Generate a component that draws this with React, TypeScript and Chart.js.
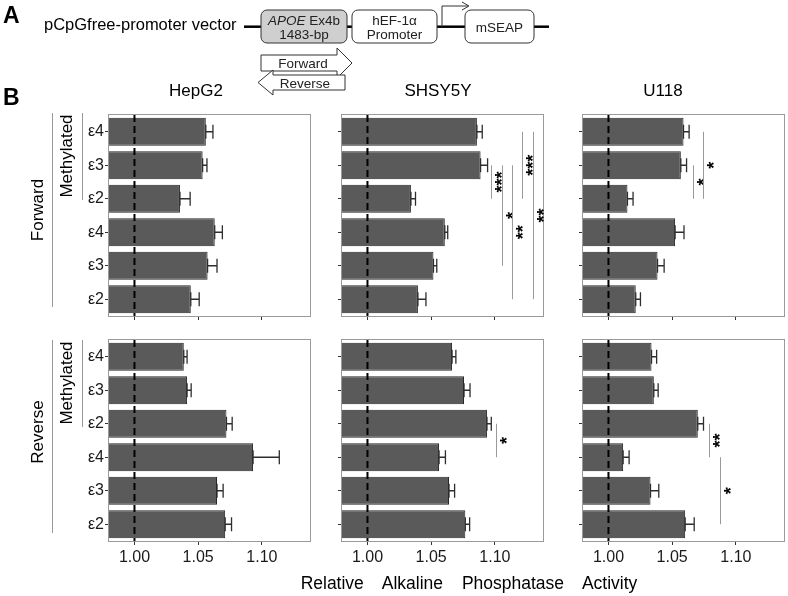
import React, { useEffect, useRef } from "react";
import { Chart, registerables } from "chart.js";

Chart.register(...registerables);

// ---------------- data ----------------
const categories = ["ε4", "ε3", "ε2", "ε4", "ε3", "ε2"];
const xTickValues = [1.0, 1.05, 1.1];
const cellLines = ["HepG2", "SHSY5Y", "U118"];
const orientations = ["Forward", "Reverse"];

const hepg2Forward = [1.056, 1.0535, 1.0357, 1.063, 1.0574, 1.0442];
const hepg2ForwardErr = [0.0056, 0.0034, 0.008, 0.006, 0.0074, 0.0066];
const hepg2Reverse = [1.0387, 1.0413, 1.0722, 1.0931, 1.0648, 1.0712];
const hepg2ReverseErr = [0.0026, 0.0032, 0.0045, 0.0206, 0.0048, 0.005];

const shsy5yForward = [1.0859, 1.0888, 1.0341, 1.0607, 1.0518, 1.0396];
const shsy5yForwardErr = [0.0042, 0.0055, 0.0036, 0.0023, 0.0026, 0.0063];
const shsy5yReverse = [1.0664, 1.0758, 1.0938, 1.0562, 1.064, 1.0768];
const shsy5yReverseErr = [0.003, 0.0047, 0.0034, 0.005, 0.0044, 0.0034];

const u118Forward = [1.0589, 1.0568, 1.0149, 1.0523, 1.0385, 1.0214];
const u118ForwardErr = [0.0044, 0.0045, 0.0044, 0.007, 0.0052, 0.0037];
const u118Reverse = [1.0338, 1.0356, 1.0701, 1.0115, 1.033, 1.0602];
const u118ReverseErr = [0.004, 0.0034, 0.0045, 0.0047, 0.0065, 0.0071];

// significance: [x value, from category index, to category index, label]
type Sig = [number, number, number, string];
const shsy5yForwardSig: Sig[] = [
  [1.097, 1, 2, "***"],
  [1.1057, 1, 4, "*"],
  [1.1135, 1, 5, "**"],
  [1.1216, 0, 2, "***"],
  [1.13, 0, 5, "**"],
];
const u118ForwardSig: Sig[] = [
  [1.066, 1, 2, "*"],
  [1.0746, 0, 2, "*"],
];
const hepg2ForwardSig: Sig[] = [];
const hepg2ReverseSig: Sig[] = [];
const shsy5yReverseSig: Sig[] = [[1.1008, 2, 3, "*"]];
const u118ReverseSig: Sig[] = [
  [1.0786, 2, 3, "**"],
  [1.0877, 3, 5, "*"],
];

const panelData = [
  [
    { values: hepg2Forward, errors: hepg2ForwardErr, sigs: hepg2ForwardSig },
    { values: shsy5yForward, errors: shsy5yForwardErr, sigs: shsy5yForwardSig },
    { values: u118Forward, errors: u118ForwardErr, sigs: u118ForwardSig },
  ],
  [
    { values: hepg2Reverse, errors: hepg2ReverseErr, sigs: hepg2ReverseSig },
    { values: shsy5yReverse, errors: shsy5yReverseErr, sigs: shsy5yReverseSig },
    { values: u118Reverse, errors: u118ReverseErr, sigs: u118ReverseSig },
  ],
];

// ---------------- layout ----------------
const FONT = "'Liberation Sans', Arial, Helvetica, sans-serif";
const PANEL_W = 201;
const PANEL_H = 201;
const colLeft = [109, 342, 583];
const rowTop = [115, 340];
const X_MIN = 0.98;
const X_MAX = 1.1378;
const PAD_T = 2;
const PAD_R = 3;

Chart.defaults.font.family = FONT;

const panelDecor = {
  id: "panelDecor",
  afterDatasetsDraw(chart: any, _args: any, opts: any) {
    const { ctx, chartArea: a } = chart;
    const xs = chart.scales.x;
    const ys = chart.scales.y;
    const values = chart.data.datasets[0].data as number[];
    ctx.save();
    // error bars
    ctx.strokeStyle = "#2e2e2e";
    ctx.lineWidth = 1.3;
    values.forEach((v: number, i: number) => {
      const e = opts.errors[i];
      const yc = ys.getPixelForValue(i);
      const x0 = xs.getPixelForValue(v);
      const x1 = xs.getPixelForValue(v + e);
      const h = 7;
      ctx.beginPath();
      ctx.moveTo(x0, yc);
      ctx.lineTo(x1, yc);
      ctx.moveTo(x0, yc - h);
      ctx.lineTo(x0, yc + h);
      ctx.moveTo(x1, yc - h);
      ctx.lineTo(x1, yc + h);
      ctx.stroke();
    });
    // reference dashed line
    const xr = xs.getPixelForValue(1);
    ctx.strokeStyle = "#000";
    ctx.lineWidth = 2;
    ctx.setLineDash([7, 4]);
    ctx.beginPath();
    ctx.moveTo(xr, a.top);
    ctx.lineTo(xr, a.bottom);
    ctx.stroke();
    ctx.setLineDash([]);
    // panel border
    ctx.strokeStyle = "#9a9a9a";
    ctx.lineWidth = 1;
    ctx.strokeRect(Math.round(a.left) - 0.5, Math.round(a.top) - 0.5, Math.round(a.width) + 1, Math.round(a.height) + 1);
    // significance
    (opts.sigs as Sig[]).forEach(([xv, from, to, label]) => {
      const xp = Math.round(xs.getPixelForValue(xv)) + 0.5;
      const y1 = ys.getPixelForValue(from);
      const y2 = ys.getPixelForValue(to);
      ctx.strokeStyle = "#9a9a9a";
      ctx.lineWidth = 1;
      ctx.beginPath();
      ctx.moveTo(xp, y1);
      ctx.lineTo(xp, y2);
      ctx.stroke();
      ctx.save();
      ctx.translate(xp + 16, (y1 + y2) / 2);
      ctx.rotate(-Math.PI / 2);
      ctx.fillStyle = "#000";
      ctx.font = `bold 18px ${FONT}`;
      ctx.textAlign = "center";
      ctx.textBaseline = "alphabetic";
      ctx.fillText(label, 0, 0);
      ctx.restore();
    });
    ctx.restore();
  },
};

type PanelProps = {
  row: number;
  col: number;
};

function Panel({ row, col }: PanelProps) {
  const ref = useRef<HTMLCanvasElement | null>(null);
  const showY = col === 0;
  const showX = row === 1;
  const yw = showY ? 49 : 6;
  const xh = showX ? 30 : 6;
  const width = yw + PANEL_W + PAD_R;
  const height = PAD_T + PANEL_H + xh;
  const left = colLeft[col] - yw;
  const top = rowTop[row] - PAD_T;
  const d = panelData[row][col];

  useEffect(() => {
    if (!ref.current) return;
    const chart = new Chart(ref.current, {
      type: "bar",
      data: {
        labels: categories,
        datasets: [
          {
            data: d.values,
            backgroundColor: "#5a5a5a",
            borderColor: "#262626",
            borderWidth: 1,
            barPercentage: 0.84,
            categoryPercentage: 1,
          },
        ],
      },
      plugins: [panelDecor],
      options: {
        indexAxis: "y",
        animation: false,
        responsive: false,
        maintainAspectRatio: false,
        devicePixelRatio: 1,
        layout: { padding: { top: PAD_T, right: PAD_R, left: 0, bottom: 0 } },
        plugins: {
          legend: { display: false },
          tooltip: { enabled: false },
          panelDecor: { errors: d.errors, sigs: d.sigs },
        } as any,
        scales: {
          x: {
            type: "linear",
            min: X_MIN,
            max: X_MAX,
            afterBuildTicks: (s: any) => {
              s.ticks = xTickValues.map((v) => ({ value: v }));
            },
            afterFit: (s: any) => {
              s.height = xh;
              s.paddingLeft = 0;
              s.paddingRight = 0;
            },
            grid: {
              display: true,
              drawOnChartArea: false,
              drawTicks: true,
              tickLength: 4,
              color: "#333",
              tickColor: "#333",
            },
            border: { display: false },
            ticks: {
              display: showX,
              padding: 3,
              color: "#1a1a1a",
              font: { size: 16, family: FONT },
              maxRotation: 0,
              callback: (v: any) => Number(v).toFixed(2),
            },
          },
          y: {
            type: "category",
            offset: true,
            afterFit: (s: any) => {
              s.width = yw;
              s.paddingTop = 0;
              s.paddingBottom = 0;
            },
            grid: {
              display: true,
              drawOnChartArea: false,
              drawTicks: true,
              tickLength: 4,
              offset: false,
              color: "#333",
              tickColor: "#333",
            },
            border: { display: false },
            ticks: {
              display: showY,
              padding: 1,
              color: "#1a1a1a",
              font: { size: 16, family: FONT },
            },
          },
        },
      } as any,
    });
    return () => chart.destroy();
  }, []);

  return (
    <canvas
      ref={ref}
      width={width}
      height={height}
      style={{ position: "absolute", left, top, width, height }}
    />
  );
}

function Diagram() {
  const lineY = 26.7;
  return (
    <svg
      width={788}
      height={596}
      style={{ position: "absolute", left: 0, top: 0, pointerEvents: "none" }}
      fontFamily={FONT}
    >
      <text x={3} y={23} fontSize={23} fontWeight="bold" fill="#000">A</text>
      <text x={3} y={105} fontSize={23} fontWeight="bold" fill="#000">B</text>
      <text x={44} y={30} fontSize={16.5} fill="#000">pCpGfree-promoter vector</text>
      {/* backbone lines */}
      <line x1={244} y1={lineY} x2={261} y2={lineY} stroke="#000" strokeWidth={2.5} />
      <line x1={347} y1={lineY} x2={352} y2={lineY} stroke="#000" strokeWidth={2.5} />
      <line x1={437} y1={lineY} x2={465} y2={lineY} stroke="#000" strokeWidth={2.5} />
      <line x1={534} y1={lineY} x2={549} y2={lineY} stroke="#000" strokeWidth={2.5} />
      {/* boxes */}
      <rect x={261} y={10} width={86} height={33} rx={6} fill="#cfcfcf" stroke="#333" strokeWidth={1} />
      <text x={304} y={24.5} fontSize={13.5} textAnchor="middle" fill="#222">
        <tspan fontStyle="italic">APOE</tspan> Ex4b
      </text>
      <text x={304} y={39} fontSize={13.5} textAnchor="middle" fill="#222">1483-bp</text>
      <rect x={352} y={10} width={85} height={33} rx={6} fill="#fff" stroke="#333" strokeWidth={1} />
      <text x={394.5} y={24.5} fontSize={13.5} textAnchor="middle" fill="#222">hEF-1α</text>
      <text x={394.5} y={39} fontSize={13.5} textAnchor="middle" fill="#222">Promoter</text>
      <rect x={465} y={10} width={69} height={33} rx={6} fill="#fff" stroke="#333" strokeWidth={1} />
      <text x={499.5} y={31.5} fontSize={13.5} textAnchor="middle" fill="#222">mSEAP</text>
      {/* promoter arrow */}
      <path d={`M442 ${lineY} V6 H468`} fill="none" stroke="#333" strokeWidth={1} />
      <path d="M462 2 L469 6 L462 10" fill="none" stroke="#333" strokeWidth={1} />
      {/* forward / reverse arrows */}
      <path d="M261 55 H337 V48 L352 63 L337 78 V71 H261 Z" fill="#fff" stroke="#333" strokeWidth={1} />
      <text x={303} y={68} fontSize={13.5} textAnchor="middle" fill="#222">Forward</text>
      <path d="M258 82.5 L273 70 V75 H345 V90 H273 V95 Z" fill="#fff" stroke="#333" strokeWidth={1} />
      <text x={305} y={87.5} fontSize={13.5} textAnchor="middle" fill="#222">Reverse</text>

      {/* panel titles */}
      <text x={196} y={96} fontSize={17} textAnchor="middle" fill="#000">{cellLines[0]}</text>
      <text x={438} y={96} fontSize={17} textAnchor="middle" fill="#000">{cellLines[1]}</text>
      <text x={663} y={96} fontSize={17} textAnchor="middle" fill="#000">{cellLines[2]}</text>

      {/* side labels */}
      <text transform="translate(43,210) rotate(-90)" fontSize={17} textAnchor="middle" fill="#000">{orientations[0]}</text>
      <line x1={52.5} y1={113} x2={52.5} y2={307} stroke="#999" strokeWidth={1} />
      <text transform="translate(72,156) rotate(-90)" fontSize={17} textAnchor="middle" fill="#000">Methylated</text>
      <line x1={82.5} y1={113} x2={82.5} y2={200} stroke="#999" strokeWidth={1} />

      <text transform="translate(43,432) rotate(-90)" fontSize={17} textAnchor="middle" fill="#000">{orientations[1]}</text>
      <line x1={52.5} y1={340} x2={52.5} y2={533} stroke="#999" strokeWidth={1} />
      <text transform="translate(72,383) rotate(-90)" fontSize={17} textAnchor="middle" fill="#000">Methylated</text>
      <line x1={82.5} y1={340} x2={82.5} y2={427} stroke="#999" strokeWidth={1} />

      {/* x axis title */}
      <text x={469} y={589} fontSize={17.5} textAnchor="middle" wordSpacing={14} fill="#000">
        Relative Alkaline Phosphatase Activity
      </text>
    </svg>
  );
}

export default function App() {
  return (
    <div
      style={{
        position: "absolute",
        left: 0,
        top: 0,
        width: 788,
        height: 596,
        background: "#fff",
        overflow: "hidden",
      }}
    >
      {[0, 1].map((r) => [0, 1, 2].map((c) => <Panel key={`${r}-${c}`} row={r} col={c} />))}
      <Diagram />
    </div>
  );
}
